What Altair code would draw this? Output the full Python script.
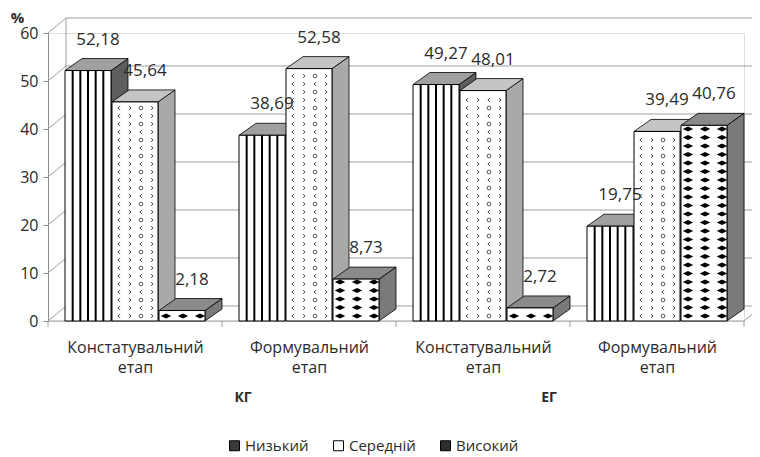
import altair as alt
import pandas as pd
import numpy as np

# ---------------- data ----------------
stages = ["Констатувальний етап", "Формувальний етап", "Констатувальний етап", "Формувальний етап"]
cohorts = ["КГ", "ЕГ"]
series = ["Низький", "Середній", "Високий"]
low = [52.18, 38.69, 49.27, 19.75]
mid = [45.64, 52.58, 48.01, 39.49]
high = [2.18, 8.73, 2.72, 40.76]
y_ticks = [0, 10, 20, 30, 40, 50, 60]

# ---------------- layout / style ----------------
W, H = 696, 288
YMAX = 60
PXY = H / YMAX              # px per unit
GW = W / len(stages)        # group width (x units == px)
BAR_OFF, BAR_STEP, BAR_W = 17, 47, 46
DX, DY = 17, 12 / PXY       # bar depth
WDX, WDY = 18, 15 / PXY     # wall depth
FONT = "Open Sans"
TXT = "#2b2b2b"
GRID = "#a0a0a0"
side_col = ["#5e5e5e", "#a9a9a9", "#7a7a7a"]
top_col = ["#a0a0a0", "#c4c4c4", "#8a8a8a"]
legend_col = ["#3a3a3a", "#ffffff", "#2e2e2e"]

values = [low, mid, high]

bars, sides, tops, stripes, glyphs, diamonds = [], [], [], [], [], []
bid = 0
for g in range(len(stages)):
    for s, name in enumerate(series):
        v = values[s][g]
        x0 = g * GW + BAR_OFF + s * BAR_STEP
        x1 = x0 + BAR_W
        bars.append(dict(id=bid, series=name, x0=x0, x1=x1, v=v,
                         lx=(x0 + x1) / 2 + 10, ly=v + DY,
                         label=f"{v:.2f}".replace(".", ",")))
        sides += [dict(id=bid, series=name, x=x1, y=0, y2=v),
                  dict(id=bid, series=name, x=x1 + DX, y=DY, y2=v + DY)]
        tops += [dict(id=bid, series=name, x=x0, y=v, y2=v),
                 dict(id=bid, series=name, x=x0 + DX, y=v, y2=v + DY),
                 dict(id=bid, series=name, x=x1, y=v, y2=v + DY),
                 dict(id=bid, series=name, x=x1 + DX, y=v + DY, y2=v + DY)]
        hpx = v * PXY
        if s == 0:
            for k in range(1, 6):
                stripes.append(dict(x=x0 + k * BAR_W / 6, y=0, y2=v))
        elif s == 1:
            r = 0
            py = 5
            while py < hpx - 3:
                for c, off in enumerate([7, 18, 29, 40]):
                    ch = ["<", ">", "•" if r % 2 == 0 else "<", ">"][c]
                    glyphs.append(dict(x=x0 + off, y=py / PXY, t=ch))
                r += 1
                py += 8
        else:
            py = 5
            while py < hpx - 2:
                for off in [7, 24, 41]:
                    diamonds.append(dict(x=x0 + off, y=py / PXY))
                py += 8.5
        bid += 1

bars = pd.DataFrame(bars)
sides = pd.DataFrame(sides)
tops = pd.DataFrame(tops)
stripes = pd.DataFrame(stripes)
glyphs = pd.DataFrame(glyphs)
diamonds = pd.DataFrame(diamonds)

# wall / floor lines
lines = []
for t in y_ticks:
    lines.append(dict(x=WDX, y=t + WDY, x2=W + WDX, y2=t + WDY))
    lines.append(dict(x=0, y=t, x2=WDX, y2=t + WDY))
lines.append(dict(x=WDX, y=WDY, x2=WDX, y2=YMAX + WDY))
lines.append(dict(x=0, y=0, x2=W, y2=0))
lines.append(dict(x=W, y=0, x2=W + WDX, y2=WDY))
for g in range(len(stages) + 1):
    lines.append(dict(x=g * GW, y=0, x2=g * GW, y2=-6 / PXY))
lines = pd.DataFrame(lines)

xs = alt.Scale(domain=[0, W], nice=False, zero=False)
ys = alt.Scale(domain=[0, YMAX], nice=False, zero=False)

centers = [(g + 0.5) * GW for g in range(len(stages))]
expr = "''"
for g in reversed(range(len(stages))):
    parts = stages[g].split(" ")
    arr = "[" + ",".join(f"'{p}'" for p in parts) + "]"
    expr = f"datum.value < {(g + 1) * GW} ? {arr} : ({expr})"

x_axis = alt.Axis(values=centers, labelExpr=expr, domain=False, ticks=False, grid=False,
                  labelFontSize=16, labelColor=TXT, labelFont=FONT, labelPadding=18,
                  labelLineHeight=20, title=None, labelBaseline="top")
y_axis = alt.Axis(values=y_ticks, grid=False, domainColor="#8c8c8c", tickColor="#8c8c8c",
                  tickSize=5, labelFontSize=16, labelColor=TXT, labelFont=FONT, labelPadding=5,
                  title="%", titleAngle=0, titleX=-31, titleY=-16, titleFontSize=15,
                  titleFont=FONT, titleColor=TXT, titleFontWeight="bold", titleAlign="center",
                  titleBaseline="middle")


def X(f):
    return alt.X(f, scale=xs, axis=x_axis)


def Y(f):
    return alt.Y(f, scale=ys, axis=y_axis)


lines_l = alt.Chart(lines).mark_rule(color=GRID, strokeWidth=1).encode(
    x=X("x:Q"), x2="x2:Q", y=Y("y:Q"), y2="y2:Q")

side_l = alt.Chart(sides).mark_area(orient="vertical", stroke="black", strokeWidth=0.8).encode(
    x=X("x:Q"), y=Y("y:Q"), y2="y2:Q", detail="id:N",
    fill=alt.Fill("series:N", scale=alt.Scale(domain=series, range=side_col), legend=None))

top_l = alt.Chart(tops).mark_area(orient="vertical", stroke="black", strokeWidth=0.8).encode(
    x=X("x:Q"), y=Y("y:Q"), y2="y2:Q", detail="id:N",
    fill=alt.Fill("series:N", scale=alt.Scale(domain=series, range=top_col), legend=None))

front_l = alt.Chart(bars).mark_rect(fill="white", stroke="black", strokeWidth=1).encode(
    x=X("x0:Q"), x2="x1:Q", y=Y("v:Q"), y2=alt.datum(0))

stripe_l = alt.Chart(stripes).mark_rule(color="black", strokeWidth=2).encode(
    x=X("x:Q"), y=Y("y:Q"), y2="y2:Q")

glyph_l = alt.Chart(glyphs).mark_point(filled=False, strokeWidth=1, color="#555555",
                                       opacity=1, size=14).encode(
    x=X("x:Q"), y=Y("y:Q"),
    shape=alt.Shape("t:N", scale=alt.Scale(
        domain=["<", ">", "•"],
        range=["M0.6,-1L-0.6,0L0.6,1", "M-0.6,-1L0.6,0L-0.6,1", "circle"]), legend=None))

dia_l = alt.Chart(diamonds).mark_point(shape="M-1,0L0,-0.5L1,0L0,0.5Z", filled=True,
                                       color="black", opacity=1, size=110).encode(
    x=X("x:Q"), y=Y("y:Q"))

label_l = alt.Chart(bars).mark_text(fontSize=17, color=TXT, font=FONT, baseline="middle",
                                    dy=-19).encode(
    x=X("lx:Q"), y=Y("ly:Q"), text="label:N")

coh = pd.DataFrame({"c": cohorts, "x": [GW * 1, GW * 3]})
coh_l1 = alt.Chart(coh.iloc[[0]]).mark_text(fontSize=14, fontWeight="bold", color=TXT, font=FONT,
                                             dx=21).encode(
    x=X("x:Q"), y=alt.value(H + 77), text="c:N")
coh_l2 = alt.Chart(coh.iloc[[1]]).mark_text(fontSize=14, fontWeight="bold", color=TXT, font=FONT,
                                             dx=-21).encode(
    x=X("x:Q"), y=alt.value(H + 77), text="c:N")

leg = pd.DataFrame({"series": series})
legend_l = alt.Chart(leg).mark_square(opacity=0).encode(
    x=alt.value(0), y=alt.value(0),
    color=alt.Color("series:N", scale=alt.Scale(domain=series, range=legend_col),
                    legend=alt.Legend(orient="none", legendX=179, legendY=405,
                                      direction="horizontal", title=None, symbolType="square",
                                      symbolSize=100, symbolStrokeColor="black",
                                      symbolStrokeWidth=1, symbolOpacity=1, labelFontSize=15,
                                      labelFont=FONT, labelColor=TXT, labelOffset=3,
                                      columnPadding=22)))

chart = alt.layer(lines_l, side_l, top_l, front_l, stripe_l, glyph_l, dia_l, label_l,
                  coh_l1, coh_l2, legend_l).resolve_scale(fill="independent").properties(
    width=W, height=H, autosize="none",
    padding={"left": 40, "top": 25, "right": 8, "bottom": 134},
).configure_view(stroke=None).configure(background="white")

chart.save("out.html", embed_options={"renderer": "svg", "actions": False})
